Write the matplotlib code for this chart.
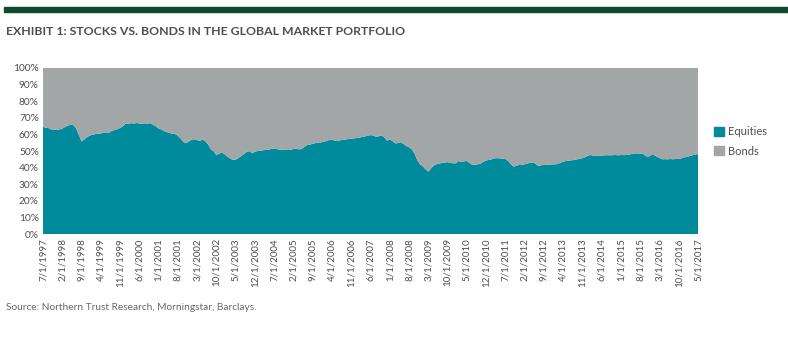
import matplotlib.pyplot as plt
import matplotlib.patches as mpatches
import numpy as np
import pandas as pd

plt.rcParams['font.family'] = ['Lato', 'DejaVu Sans']

# Monthly equity share of the global market portfolio (%), 7/1997 - 5/2017
equities = [
    # 1997 Jul-Dec
    64.6, 64.0, 63.8, 63.0, 62.8, 62.9,
    # 1998
    63.0, 63.5, 64.5, 65.3, 65.8, 65.6, 63.8, 59.8, 55.8, 57.0, 58.4, 59.3,
    # 1999
    59.8, 60.2, 60.3, 60.6, 61.0, 61.3, 61.0, 62.2, 62.6, 63.2, 63.9, 64.8,
    # 2000
    66.6, 66.3, 66.8, 66.5, 66.9, 66.6, 66.4, 66.7, 66.5, 66.8, 65.8, 64.9,
    # 2001
    63.5, 63.0, 62.0, 61.4, 60.8, 60.5, 60.2, 59.2, 57.6, 55.4, 54.7, 55.8,
    # 2002
    56.8, 57.1, 56.5, 56.2, 56.9, 55.8, 54.0, 51.0, 49.8, 47.6, 48.3, 49.3,
    # 2003
    48.0, 46.6, 45.5, 44.6, 44.8, 45.8, 47.0, 48.2, 49.5, 49.9, 48.6, 49.6,
    # 2004
    50.0, 50.2, 50.5, 50.6, 50.8, 51.3, 51.6, 51.2, 50.8, 50.7, 50.8, 51.0,
    # 2005
    50.8, 51.2, 51.5, 51.0, 51.2, 52.5, 53.6, 53.9, 54.3, 54.8, 55.0, 55.2,
    # 2006
    55.6, 56.0, 56.6, 56.9, 56.2, 56.0, 56.5, 56.7, 57.0, 57.2, 57.4, 57.6,
    # 2007
    57.8, 58.0, 58.5, 58.8, 59.2, 59.6, 59.3, 58.6, 58.9, 59.3, 58.4, 56.2,
    # 2008
    57.0, 56.0, 54.6, 54.8, 55.3, 54.3, 53.0, 52.3, 51.0, 48.5, 44.5, 42.0,
    # 2009
    40.8, 39.0, 37.6, 39.5, 41.3, 42.0, 42.5, 42.8, 43.1, 43.3, 42.9, 42.6,
    # 2010
    42.6, 44.0, 43.4, 43.8, 44.0, 42.8, 41.6, 41.8, 42.0, 42.4, 43.5, 44.3,
    # 2011
    44.6, 45.0, 45.6, 45.7, 45.6, 45.3, 45.2, 44.0, 42.0, 40.6, 41.2, 41.6,
    # 2012
    41.6, 42.0, 42.5, 42.9, 43.2, 42.3, 41.0, 41.4, 41.6, 41.7, 41.8, 41.9,
    # 2013
    42.0, 42.2, 42.9, 43.6, 44.0, 44.2, 44.4, 44.6, 45.0, 45.2, 45.7, 46.3,
    # 2014
    47.2, 47.6, 47.2, 47.0, 47.3, 47.2, 47.4, 47.5, 47.4, 47.5, 47.6, 47.4,
    # 2015
    47.6, 47.5, 47.6, 47.9, 48.2, 48.5, 48.6, 48.4, 48.3, 47.0, 46.6, 47.6,
    # 2016
    47.6, 46.6, 45.8, 45.0, 45.1, 45.0, 45.2, 45.0, 45.2, 45.3, 45.6, 46.2,
    # 2017 Jan-May
    46.4, 47.0, 47.5, 47.8, 48.2,
]
dates = pd.date_range('1997-07-01', periods=len(equities), freq='MS')
bonds = [100 - e for e in equities]

teal = '#008B9D'
gray = '#A3A6A7'
txt = '#4D4D4F'

fig = plt.figure(figsize=(7.88, 3.45), dpi=100)
fig.patches.append(mpatches.Rectangle((0.005, 0.966), 0.995, 0.015, transform=fig.transFigure,
                                      color='#0E4B2E', zorder=0))
fig.text(0.008, 0.91, 'EXHIBIT 1: STOCKS VS. BONDS IN THE GLOBAL MARKET PORTFOLIO',
         fontsize=8.8, fontweight='bold', color=txt, va='center')
fig.text(0.008, 0.11, 'Source: Northern Trust Research, Morningstar, Barclays.',
         fontsize=7.3, color='#666666', va='center')

ax = fig.add_axes([0.0546, 0.3217, 0.8312, 0.4812])
x = np.arange(len(equities))
ax.stackplot(x, equities, bonds, colors=[teal, gray], linewidth=0)
ax.set_xlim(0, len(equities) - 1)
ax.set_ylim(0, 100)

ticks = x[::7]
ax.set_xticks(ticks)
ax.set_xticklabels([f'{d.month}/1/{d.year}' for d in dates[::7]], rotation=90,
                   fontsize=7, color=txt)
ax.set_yticks(range(0, 101, 10))
ax.set_yticklabels([f'{v}%' for v in range(0, 101, 10)], fontsize=7.3, color=txt)
ax.tick_params(length=0, pad=3)
for s in ax.spines.values():
    s.set_visible(False)

handles = [mpatches.Patch(color=teal, label='Equities'), mpatches.Patch(color=gray, label='Bonds')]
fig.legend(handles=handles, loc='center left', bbox_to_anchor=(0.893, 0.59), frameon=False,
           fontsize=8, handlelength=0.9, handleheight=0.9, handletextpad=0.4,
           labelspacing=0.75, labelcolor=txt)

fig.savefig('out.png', dpi=100)
